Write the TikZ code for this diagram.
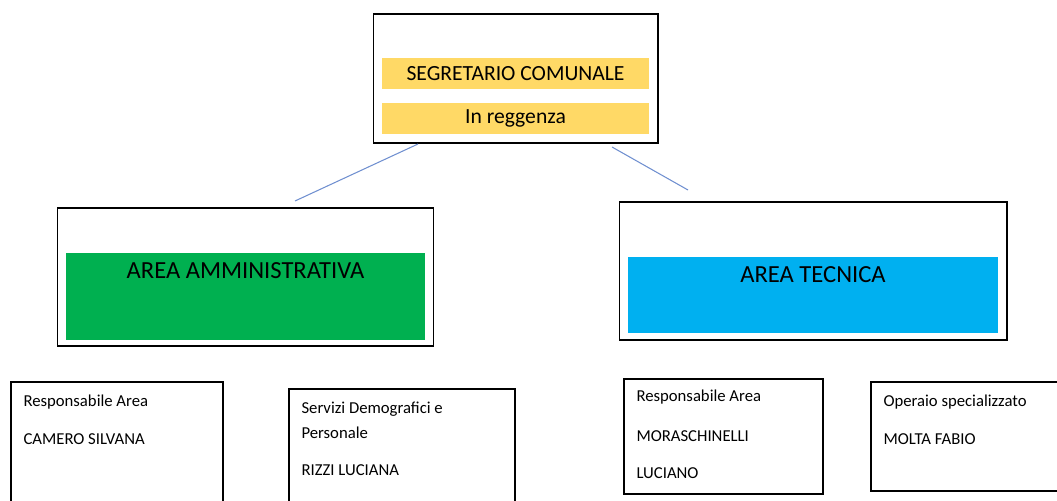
\documentclass[tikz,border=0pt]{standalone}
\usepackage{fontspec}
\setmainfont{Carlito}

\definecolor{giallo}{HTML}{FFD966}
\definecolor{verde}{HTML}{00B050}
\definecolor{azzurro}{HTML}{00B0F0}
\definecolor{linea}{HTML}{6F8FD0}

\begin{document}
\begin{tikzpicture}[x=0.02cm, y=-0.02cm, line width=0.6pt]

\useasboundingbox (0,0) rectangle (1057,500) ;
\clip (0,0) rectangle (1057,500) ;

% segretario
\node (segr) [draw, minimum width=5.7cm, minimum height=2.58cm, inner sep=0] at (515.5,78.5) {} ;
\node (segrnome) [fill=giallo, minimum width=5.34cm, minimum height=0.62cm, inner sep=0, font=\fontsize{12.3}{14}\selectfont] at (515.5,73.5) {SEGRETARIO COMUNALE} ;
\node (segrregg) [fill=giallo, minimum width=5.34cm, minimum height=0.62cm, inner sep=0, font=\fontsize{12.3}{14}\selectfont] at (515.5,118.5) {In reggenza} ;

% aree
\node (amm) [draw, minimum width=7.54cm, minimum height=2.76cm, inner sep=0] at (245.5,277) {} ;
\node (ammfill) [fill=verde, minimum width=7.18cm, minimum height=1.74cm, inner sep=0] at (245.5,296.5) {} ;
\node (ammtxt) [font=\fontsize{14}{16}\selectfont] at (245.5,271) {AREA AMMINISTRATIVA} ;

\node (tec) [draw, minimum width=7.76cm, minimum height=2.76cm, inner sep=0] at (813,271) {} ;
\node (tecfill) [fill=azzurro, minimum width=7.4cm, minimum height=1.52cm, inner sep=0] at (813,295) {} ;
\node (tectxt) [font=\fontsize{14}{16}\selectfont] at (813,275) {AREA TECNICA} ;

% collegamenti
\coordinate (c1) at (418,144) ;
\coordinate (c2) at (295,201) ;
\coordinate (c3) at (612,147) ;
\coordinate (c4) at (688,190) ;
\draw [linea] (c1) -- (c2) ;
\draw [linea] (c3) -- (c4) ;

% personale
\draw (11,382) rectangle (223,520) ;
\draw (289,389) rectangle (515,520) ;
\draw (624,379) rectangle (823,494) ;
\draw (871,382) rectangle (1070,491) ;

\node (p1a) [anchor=west, inner sep=0, font=\fontsize{9.5}{11}\selectfont] at (23,402) {Responsabile Area} ;
\node (p1b) [anchor=west, inner sep=0, font=\fontsize{9.5}{11}\selectfont] at (23,439) {CAMERO SILVANA} ;

\node (p2a) [anchor=west, inner sep=0, font=\fontsize{9.5}{11}\selectfont] at (301,409) {Servizi Demografici e} ;
\node (p2b) [anchor=west, inner sep=0, font=\fontsize{9.5}{11}\selectfont] at (301,433) {Personale} ;
\node (p2c) [anchor=west, inner sep=0, font=\fontsize{9.5}{11}\selectfont] at (301,470) {RIZZI LUCIANA} ;

\node (p3a) [anchor=west, inner sep=0, font=\fontsize{9.5}{11}\selectfont] at (636,397) {Responsabile Area} ;
\node (p3b) [anchor=west, inner sep=0, font=\fontsize{9.5}{11}\selectfont] at (636,436) {MORASCHINELLI} ;
\node (p3c) [anchor=west, inner sep=0, font=\fontsize{9.5}{11}\selectfont] at (636,473) {LUCIANO} ;

\node (p4a) [anchor=west, inner sep=0, font=\fontsize{9.5}{11}\selectfont] at (883,402) {Operaio specializzato} ;
\node (p4b) [anchor=west, inner sep=0, font=\fontsize{9.5}{11}\selectfont] at (883,439) {MOLTA FABIO} ;

\end{tikzpicture}
\end{document}
